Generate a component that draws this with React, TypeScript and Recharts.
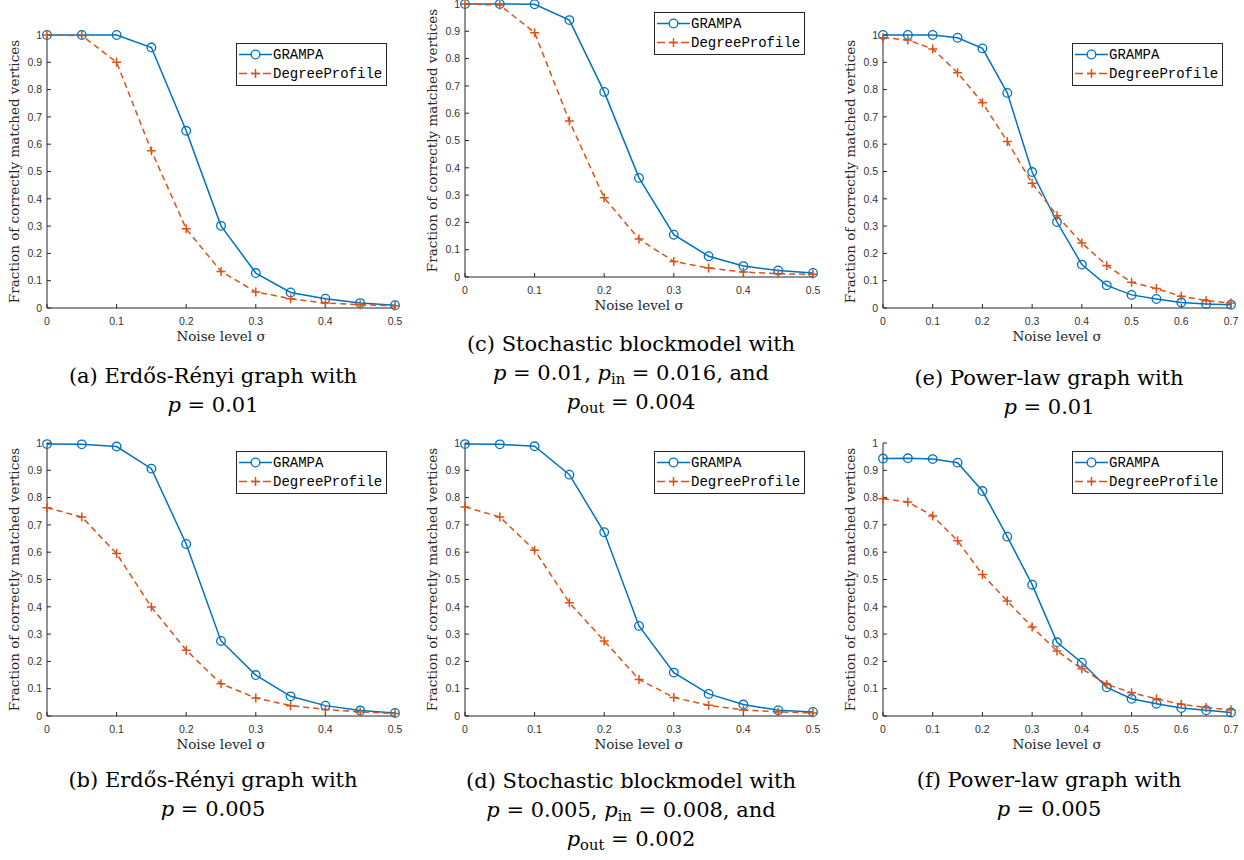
import React from "react";
import { LineChart, Line, XAxis, YAxis, Legend } from "recharts";

const BLUE = "#0072BD";
const ORANGE = "#D95319";
const AXIS = "#262626";
const SERIF = "'DejaVu Serif', serif";
const SANS = "'Liberation Sans', Arial, sans-serif";
const MONO = "'Liberation Mono', 'DejaVu Sans Mono', monospace";

// noise levels (sigma) and tick values
const sigmaShort = [0, 0.05, 0.1, 0.15, 0.2, 0.25, 0.3, 0.35, 0.4, 0.45, 0.5];
const sigmaLong = [0, 0.05, 0.1, 0.15, 0.2, 0.25, 0.3, 0.35, 0.4, 0.45, 0.5, 0.55, 0.6, 0.65, 0.7];
const xTicksShort = [0, 0.1, 0.2, 0.3, 0.4, 0.5];
const xTicksLong = [0, 0.1, 0.2, 0.3, 0.4, 0.5, 0.6, 0.7];
const yTicks = [0, 0.1, 0.2, 0.3, 0.4, 0.5, 0.6, 0.7, 0.8, 0.9, 1];

// (a) Erdos-Renyi, p = 0.01
const grampaA = [1, 1, 1, 0.954, 0.649, 0.301, 0.128, 0.057, 0.034, 0.018, 0.01];
const degreeA = [1, 0.998, 0.9, 0.576, 0.29, 0.134, 0.059, 0.034, 0.018, 0.012, 0.008];
// (b) Erdos-Renyi, p = 0.005
const grampaB = [0.996, 0.995, 0.987, 0.906, 0.63, 0.275, 0.15, 0.072, 0.038, 0.02, 0.011];
const degreeB = [0.763, 0.729, 0.595, 0.399, 0.241, 0.118, 0.066, 0.038, 0.024, 0.015, 0.009];
// (c) SBM, p = 0.01
const grampaC = [1, 1, 0.999, 0.941, 0.678, 0.363, 0.155, 0.076, 0.04, 0.024, 0.015];
const degreeC = [1, 0.996, 0.895, 0.571, 0.29, 0.139, 0.057, 0.033, 0.018, 0.012, 0.01];
// (d) SBM, p = 0.005
const grampaD = [0.996, 0.995, 0.988, 0.884, 0.673, 0.33, 0.159, 0.081, 0.042, 0.021, 0.015];
const degreeD = [0.766, 0.729, 0.607, 0.415, 0.275, 0.134, 0.068, 0.039, 0.022, 0.015, 0.011];
// (e) power-law, p = 0.01
const grampaE = [1, 1, 1, 0.99, 0.951, 0.788, 0.498, 0.315, 0.159, 0.083, 0.048, 0.033, 0.02, 0.015, 0.012];
const degreeE = [0.99, 0.982, 0.949, 0.862, 0.752, 0.61, 0.457, 0.338, 0.238, 0.156, 0.094, 0.071, 0.043, 0.027, 0.018];
// (f) power-law, p = 0.005
const grampaF = [0.943, 0.944, 0.941, 0.928, 0.824, 0.657, 0.481, 0.27, 0.195, 0.105, 0.063, 0.045, 0.029, 0.021, 0.013];
const degreeF = [0.796, 0.784, 0.733, 0.642, 0.518, 0.421, 0.326, 0.238, 0.173, 0.116, 0.085, 0.063, 0.043, 0.031, 0.023];

const P = () => <i>p</i>;
// subscript that does not push the line box down
const Sub = ({ children }: { children: any }) => (
  <span style={{ fontSize: "0.7em", position: "relative", top: "0.3em", lineHeight: 0 }}>{children}</span>
);

const panels = [
  {
    id: "a", left: 0, top: 0, captionTop: 362,
    sigma: sigmaShort, xTicks: xTicksShort, grampa: grampaA, degree: degreeA,
    caption: [<>(a) Erdős-Rényi graph with</>, <><P /> = 0.01</>],
  },
  {
    id: "c", left: 418, top: -31, captionTop: 361,
    sigma: sigmaShort, xTicks: xTicksShort, grampa: grampaC, degree: degreeC,
    caption: [
      <>(c) Stochastic blockmodel with</>,
      <><P /> = 0.01, <P /><Sub>in</Sub> = 0.016, and</>,
      <><P /><Sub>out</Sub> = 0.004</>,
    ],
  },
  {
    id: "e", left: 836, top: 0, captionTop: 364,
    sigma: sigmaLong, xTicks: xTicksLong, grampa: grampaE, degree: degreeE,
    caption: [<>(e) Power-law graph with</>, <><P /> = 0.01</>],
  },
  {
    id: "b", left: 0, top: 408, captionTop: 358,
    sigma: sigmaShort, xTicks: xTicksShort, grampa: grampaB, degree: degreeB,
    caption: [<>(b) Erdős-Rényi graph with</>, <><P /> = 0.005</>],
  },
  {
    id: "d", left: 418, top: 408, captionTop: 359,
    sigma: sigmaShort, xTicks: xTicksShort, grampa: grampaD, degree: degreeD,
    caption: [
      <>(d) Stochastic blockmodel with</>,
      <><P /> = 0.005, <P /><Sub>in</Sub> = 0.008, and</>,
      <><P /><Sub>out</Sub> = 0.002</>,
    ],
  },
  {
    id: "f", left: 836, top: 408, captionTop: 358,
    sigma: sigmaLong, xTicks: xTicksLong, grampa: grampaF, degree: degreeF,
    caption: [<>(f) Power-law graph with</>, <><P /> = 0.005</>],
  },
];

const tickStyle = { fontSize: 10.5, fill: "#333", fontFamily: SANS };

const PlusDot = (props: any) => {
  const { cx, cy, index } = props;
  if (cx == null || cy == null) return <g key={`p${index}`} />;
  return (
    <path
      key={`p${index}`}
      d={`M${cx - 4.5},${cy}H${cx + 4.5}M${cx},${cy - 4.5}V${cy + 4.5}`}
      stroke={ORANGE}
      strokeWidth={1.5}
      fill="none"
    />
  );
};

const LegendBox = () => (
  <svg width={151} height={43} style={{ display: "block" }}>
    <rect x={0.5} y={0.5} width={150} height={42} fill="#fff" stroke={AXIS} strokeWidth={1} />
    <line x1={3} x2={36} y1={11.5} y2={11.5} stroke={BLUE} strokeWidth={1.5} />
    <circle cx={19.5} cy={11.5} r={4.3} fill="#fff" stroke={BLUE} strokeWidth={1.3} />
    <text x={37} y={11.5} dominantBaseline="central" fontFamily={MONO} fontSize={14} fill="#000">
      GRAMPA
    </text>
    <line x1={3} x2={36} y1={30.5} y2={30.5} stroke={ORANGE} strokeWidth={1.5} strokeDasharray="8 4" />
    <path d="M15,30.5H24M19.5,26V35" stroke={ORANGE} strokeWidth={1.5} />
    <text x={37} y={30.5} dominantBaseline="central" fontFamily={MONO} fontSize={14} fill="#000">
      DegreeProfile
    </text>
  </svg>
);

function Panel({ p }: { p: any }) {
  const rows = p.sigma.map((s: number, i: number) => ({
    sigma: s,
    grampa: p.grampa[i],
    degree: p.degree[i],
  }));
  const xMax = p.xTicks[p.xTicks.length - 1];

  return (
    <div style={{ position: "absolute", left: p.left, top: p.top, width: 415, height: 460 }}>
      <LineChart width={415} height={350} data={rows} margin={{ top: 35, right: 20, bottom: 12, left: 0 }}>
        <XAxis
          dataKey="sigma"
          type="number"
          domain={[0, xMax]}
          ticks={p.xTicks}
          interval={0}
          height={30}
          stroke={AXIS}
          tickSize={-4}
          tickMargin={13.5}
          tick={tickStyle}
          label={{
            value: "Noise level σ",
            position: "bottom",
            offset: -7,
            fontSize: 13.5,
            fontFamily: SERIF,
            fill: "#262626",
          }}
        />
        <XAxis
          xAxisId="top"
          orientation="top"
          type="number"
          domain={[0, xMax]}
          ticks={p.xTicks}
          interval={0}
          height={0}
          allowDataOverflow
          stroke={AXIS}
          tickSize={-4}
          tick={false}
        />
        <YAxis
          type="number"
          domain={[0, 1]}
          ticks={yTicks}
          interval={0}
          width={47}
          stroke={AXIS}
          tickSize={-4}
          tickMargin={9}
          tick={tickStyle}
          label={{
            value: "Fraction of correctly matched vertices",
            angle: -90,
            position: "insideLeft",
            offset: 14,
            style: { textAnchor: "middle" },
            fontSize: 13.5,
            fontFamily: SERIF,
            fill: "#262626",
          }}
        />
        <YAxis
          yAxisId="right"
          orientation="right"
          type="number"
          domain={[0, 1]}
          ticks={yTicks}
          interval={0}
          width={0}
          allowDataOverflow
          stroke={AXIS}
          tickSize={-4}
          tick={false}
        />
        <Line
          dataKey="grampa"
          type="linear"
          stroke={BLUE}
          strokeWidth={1.5}
          dot={{ r: 4.3, fill: "none", stroke: BLUE, strokeWidth: 1.3 }}
          activeDot={false}
          isAnimationActive={false}
        />
        <Line
          dataKey="degree"
          type="linear"
          stroke={ORANGE}
          strokeWidth={1.5}
          strokeDasharray="6 4"
          dot={PlusDot}
          activeDot={false}
          isAnimationActive={false}
        />
        <Legend
          layout="vertical"
          align="center"
          verticalAlign="middle"
          wrapperStyle={{ left: 236, top: 43, width: 151, height: 43 }}
          content={() => <LegendBox />}
        />
      </LineChart>
      <div
        style={{
          position: "absolute",
          left: 13,
          top: p.captionTop,
          width: 400,
          textAlign: "center",
          fontFamily: SERIF,
          fontSize: 21,
          lineHeight: "29px",
          color: "#000",
        }}
      >
        {p.caption.map((line: any, i: number) => (
          <div key={i}>{line}</div>
        ))}
      </div>
    </div>
  );
}

export default function App() {
  return (
    <div
      style={{
        position: "absolute",
        left: 0,
        top: 0,
        width: 1244,
        height: 860,
        background: "#fff",
        overflow: "hidden",
      }}
    >
      {panels.map((p) => (
        <Panel key={p.id} p={p} />
      ))}
    </div>
  );
}
